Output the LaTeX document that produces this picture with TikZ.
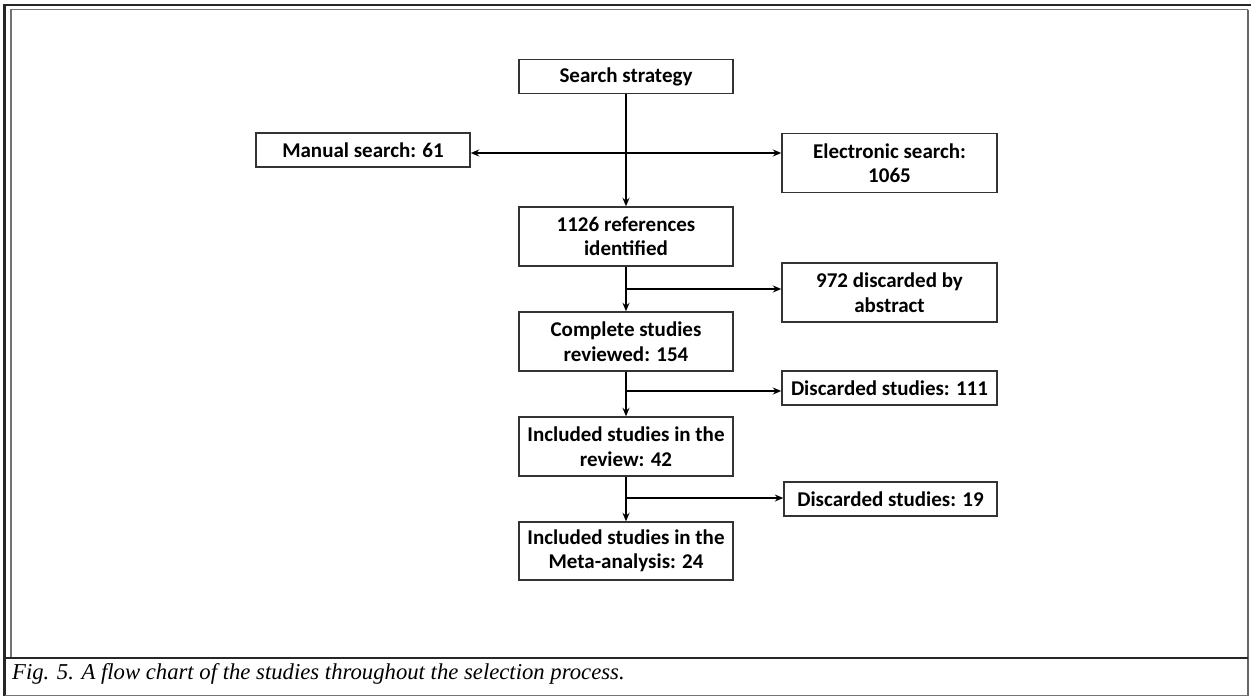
\documentclass[tikz,border=0pt]{standalone}
\usepackage{fontspec}
\setmainfont{Carlito}
\newfontfamily\capfont{Liberation Serif}
\usetikzlibrary{arrows.meta}
\begin{document}
\begin{tikzpicture}[x=1pt,y=-1pt,
  box/.style={draw=black!80, line width=1.4pt, minimum width=214pt, inner sep=0pt, align=center,
    font=\fontsize{21}{24.5}\selectfont\bfseries},
  boxa/.style={box, minimum height=34pt},
  boxb/.style={box, minimum height=59pt},
  conn/.style={line width=2.6pt, draw=black, -{Stealth[length=8.5pt,width=7pt]}},
  thickframe/.style={line width=2.6pt, draw=black!85},
  thinframe/.style={line width=1.1pt, draw=black!55}
]
\useasboundingbox (0,0) rectangle (1251,696);
\fill[white] (0,0) rectangle (1251,696);
% frame
\draw[thickframe] (1251,5) -- (4.5,5) -- (4.5,696);
\draw[thinframe] (1248,9.5) -- (11,9.5) -- (11,658);
\draw[line width=1.6pt, draw=black!60] (1248,9.5) -- (1248,695.5);
\draw[line width=2.2pt, draw=black!85] (4.5,658) -- (1248,658);
\draw[thinframe] (4.5,695.5) -- (1248,695.5);

% nodes
\node[boxa] (ss) at (626,76.5) {Search strategy};
\node[boxa] (man) at (363,150) {Manual search: 61};
\node[boxb, minimum width=215pt] (ele) at (889.5,163) {Electronic search:\\1065};
\node[boxb] (ref) at (626,236.5) {1126 references\\identified};
\node[boxb, minimum width=215pt] (d972) at (889.5,292.5) {972 discarded by\\abstract};
\node[boxb] (cs) at (626,341.5) {Complete studies\\reviewed: 154};
\node[boxa, minimum width=215pt] (d111) at (889.5,388) {Discarded studies: 111};
\node[boxb] (rev) at (626,446.5) {Included studies in the\\review: 42};
\node[boxa, minimum width=213pt] (d19) at (890.5,499) {Discarded studies: 19};
\node[boxb, minimum height=58pt] (meta) at (626,551) {Included studies in the\\Meta-analysis: 24};

% junctions
\coordinate (j1) at (626,153);
\coordinate (j2) at (626,289);
\coordinate (j3) at (626,391);
\coordinate (j4) at (626,498);

% connectors
\draw[conn] (ss.south) -- (ref.north);
\draw[conn] (j1) -- (j1 -| man.east);
\draw[conn] (j1) -- (j1 -| ele.west);
\draw[conn] (ref.south) -- (cs.north);
\draw[conn] (j2) -- (j2 -| d972.west);
\draw[conn] (cs.south) -- (rev.north);
\draw[conn] (j3) -- (j3 -| d111.west);
\draw[conn] (rev.south) -- (meta.north);
\draw[conn] (j4) -- (j4 -| d19.west);

% caption
\node[anchor=base west, inner sep=0pt, font=\capfont\itshape\fontsize{22.7}{22.7}\selectfont] (cap) at (12,679)
  {Fig. 5. A flow chart of the studies throughout the selection process.};
\end{tikzpicture}
\end{document}
